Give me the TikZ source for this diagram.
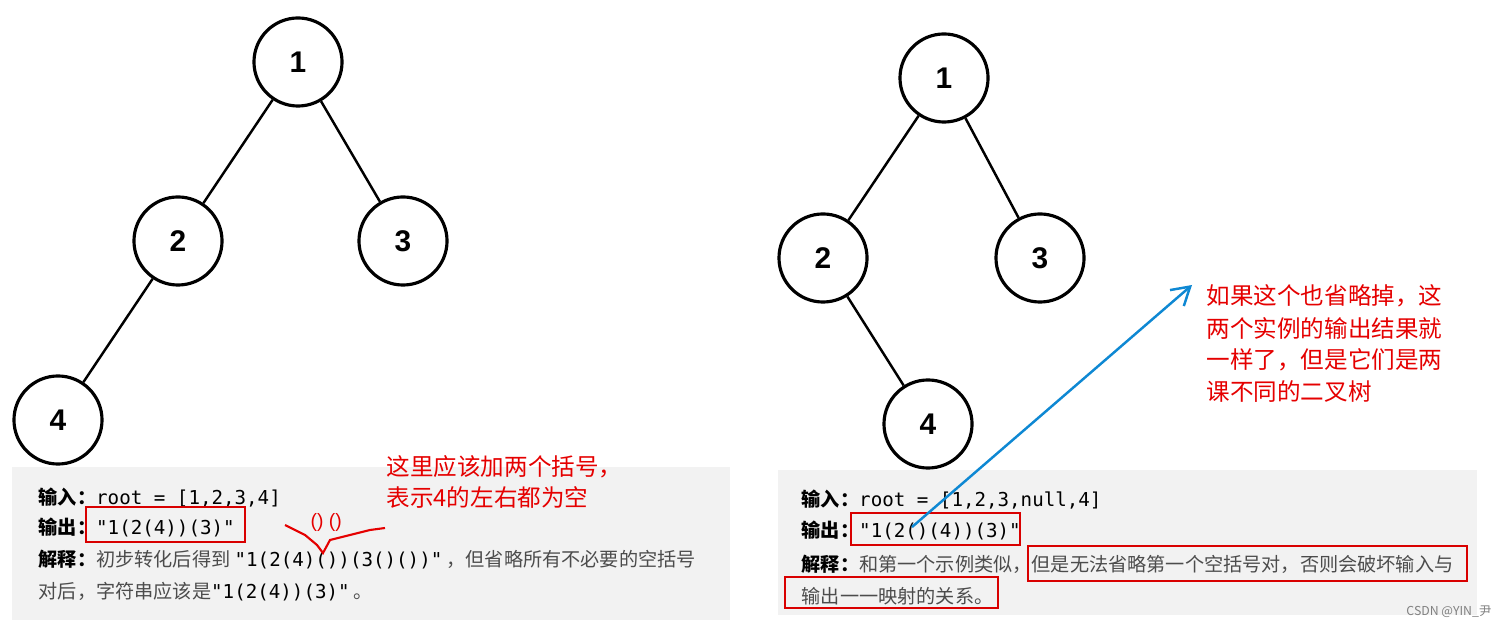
\documentclass[tikz,border=0pt]{standalone}
\usepackage{fontspec}
\setmainfont{Liberation Sans}
\setmonofont{DejaVu Sans Mono}
\newfontfamily\cjk{Noto Sans CJK SC}
\usetikzlibrary{arrows.meta}
\newcommand{\cd}[1]{{\color{black}\texttt{#1}}}
\begin{document}
\begin{tikzpicture}[x=0.01cm,y=-0.01cm,
  tn/.style={circle,draw,line width=0.9pt,minimum size=0.88cm,inner sep=0pt,font=\fontsize{8.5}{9}\selectfont\bfseries},
  ed/.style={line width=0.7pt},
  tl/.style={anchor=west,inner sep=0pt,font=\fontsize{5.45}{6}\selectfont\cjk,text=black!70},
  rb/.style={draw=red!85!black,line width=0.8pt},
  an/.style={anchor=west,inner sep=0pt,font=\fontsize{6.7}{7}\selectfont\cjk,text=red!90!black}]
\useasboundingbox (0,0) rectangle (1504,628);
\fill[white] (0,0) rectangle (1504,628);
% left tree
\node[tn] (a1) at (298,62) {1};
\node[tn] (a2) at (178,241) {2};
\node[tn] (a3) at (403,241) {3};
\node[tn] (a4) at (58,420) {4};
\draw[ed] (a1)--(a2); \draw[ed] (a1)--(a3); \draw[ed] (a2)--(a4);
% right tree
\node[tn] (b1) at (944,78) {1};
\node[tn] (b2) at (823,258) {2};
\node[tn] (b3) at (1040,258) {3};
\node[tn] (b4) at (928,424) {4};
\draw[ed] (b1)--(b2); \draw[ed] (b1)--(b3); \draw[ed] (b2)--(b4);
% boxes
\fill[gray!10] (12,467) rectangle (730,620);
\fill[gray!10] (778,470) rectangle (1477,615);
% left text
\node[tl] (l1) at (38,498) {\textbf{\color{black}输入：}\cd{root = [1,2,3,4]}};
\node[tl] (l2) at (38,527) {\textbf{\color{black}输出：}\cd{"1(2(4))(3)"}};
\node[tl] (l3) at (38,560) {\textbf{\color{black}解释：}初步转化后得到 \cd{"1(2(4)())(3()())"} ，但省略所有不必要的空括号};
\node[tl] (l4) at (38,592) {对后，字符串应该是\cd{"1(2(4))(3)"} 。};
\draw[rb] (86,507) rectangle (245,542);
% right text
\node[tl] (r1) at (801,500) {\textbf{\color{black}输入：}\cd{root = [1,2,3,null,4]}};
\node[tl] (r2) at (801,530) {\textbf{\color{black}输出：}\cd{"1(2()(4))(3)"}};
\node[tl] (r3) at (801,564) {\textbf{\color{black}解释：}和第一个示例类似，但是无法省略第一个空括号对，否则会破坏输入与};
\node[tl] (r4) at (801,596) {输出一一映射的关系。};
\draw[rb] (851,513) rectangle (1020,545);
\draw[rb] (1028,546) rectangle (1467,581);
\draw[rb] (785,577) rectangle (998,608);
% annotations
\node[an] (n1) at (386,467) {这里应该加两个括号，};
\node[an] (n2) at (386,497) {表示4的左右都为空};
\node[an,font=\fontsize{5.5}{6}\selectfont] (n3) at (310,522) {() ()};
\draw[red!90!black,line width=0.6pt] (285,525)--(305,535)--(317,545)--(323,553)--(330,540)--(350,535)--(370,530)--(385,528);
\node[an] (m1) at (1206,296) {如果这个也省略掉，这};
\node[an] (m2) at (1206,328) {两个实例的输出结果就};
\node[an] (m3) at (1206,360) {一样了，但是它们是两};
\node[an] (m4) at (1206,392) {课不同的二叉树};
\coordinate (s) at (912,527);
\coordinate (t) at (1192,285);
\draw[cyan!70!blue,line width=0.7pt,-{Straight Barb[length=5pt,width=6pt]}] (s)--(t);
\node[anchor=east,inner sep=0pt,font=\fontsize{3.5}{4}\selectfont\cjk,text=gray] (w) at (1492,612) {CSDN @YIN\_尹};
\end{tikzpicture}
\end{document}
